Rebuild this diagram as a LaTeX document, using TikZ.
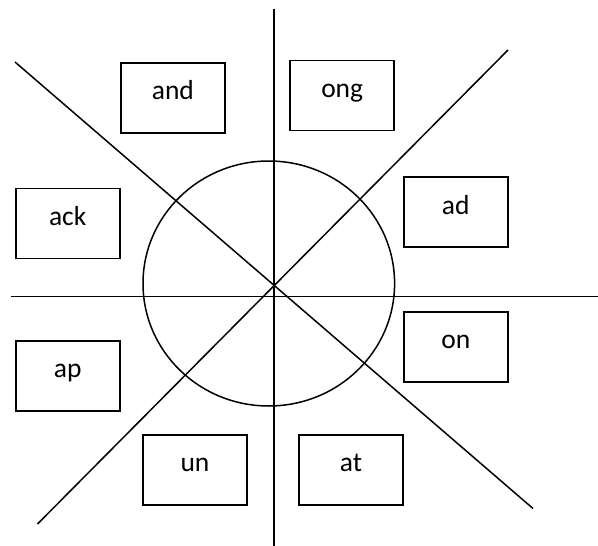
\documentclass[tikz,border=0pt]{standalone}
\usepackage{fontspec}
\setmainfont{Carlito}
\begin{document}
\begin{tikzpicture}[
    x=1pt, y=-1pt,
    every node/.style={font=\fontsize{27.5}{32}\selectfont},
    word/.style={
        draw,
        line width=1.6pt,
        inner sep=0pt,
        minimum width=104pt,
        text height=37pt,
        text depth=33pt
    },
    ln/.style={line width=1.5pt}
]
    \useasboundingbox (0,0) rectangle (598,546);

    % Circle in the middle
    \draw[ln] (268.8,283.5) ellipse [x radius=125.8, y radius=122.5];

    % Line ends
    \coordinate (top) at (274,8.5);
    \coordinate (bot) at (274,546);
    \coordinate (lft) at (10.5,296.7);
    \coordinate (rgt) at (598,296.7);
    \coordinate (nw) at (15,62);
    \coordinate (se) at (533,508.5);
    \coordinate (ne) at (508,50);
    \coordinate (sw) at (37.5,524);

    \draw[ln] (top) -- (bot);
    \draw[ln] (lft) -- (rgt);
    \draw[ln] (nw) -- (se);
    \draw[ln] (ne) -- (sw);

    % Word endings
    \node[word] (and) at (172.9,97.9) {and};
    \node[word] (ong) at (342.2,95.5) {ong};
    \node[word] (ack) at (67.7,223.3) {ack};
    \node[word] (ad) at (455.8,212.2) {ad};
    \node[word] (on) at (455.8,346.7) {on};
    \node[word] (ap) at (67.8,375.7) {ap};
    \node[word] (un) at (195,469.8) {un};
    \node[word] (at) at (351,469.8) {at};

\end{tikzpicture}
\end{document}
